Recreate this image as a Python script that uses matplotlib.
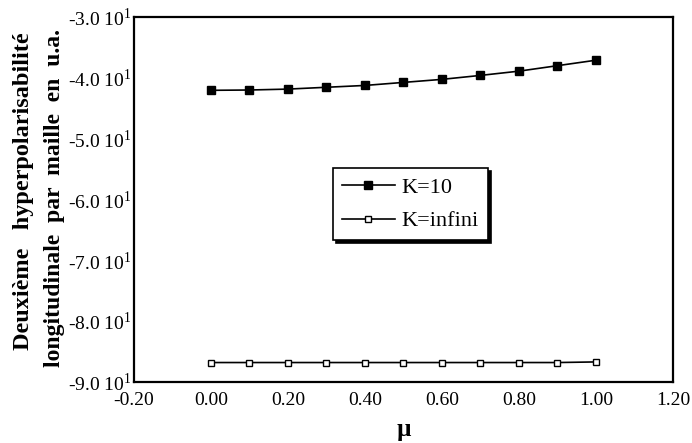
import matplotlib
matplotlib.use("Agg")
import matplotlib.pyplot as plt
from matplotlib.ticker import FixedLocator, FuncFormatter

plt.rcParams['font.family'] = ['Liberation Serif', 'DejaVu Serif']
plt.rcParams['mathtext.fontset'] = 'custom'
plt.rcParams['mathtext.rm'] = 'Liberation Serif'

mu = [0.0, 0.1, 0.2, 0.3, 0.4, 0.5, 0.6, 0.7, 0.8, 0.9, 1.0]
k10 = [-42.05, -42.0, -41.85, -41.55, -41.25, -40.75, -40.25, -39.6, -38.9, -38.0, -37.1]
kinf = [-86.8, -86.8, -86.8, -86.8, -86.8, -86.8, -86.8, -86.8, -86.8, -86.8, -86.7]

xticks = [-0.2, 0.0, 0.2, 0.4, 0.6, 0.8, 1.0, 1.2]
yticks = [-90, -80, -70, -60, -50, -40, -30]

W, H = 692, 443
fig = plt.figure(figsize=(W / 100, H / 100), dpi=100)
ax = fig.add_axes([0.1936, 0.1377, 0.7789, 0.8239])

ax.plot(mu, k10, color='black', lw=1.2, marker='s', ms=6,
        mfc='black', mec='black', label='K=10')
ax.plot(mu, kinf, color='black', lw=1.2, marker='s', ms=5,
        mfc='white', mec='black', mew=1.0, label='K=infini')

ax.set_xlim(-0.2, 1.2)
ax.set_ylim(-90, -30)
ax.xaxis.set_major_locator(FixedLocator(xticks))
ax.yaxis.set_major_locator(FixedLocator(yticks))
ax.xaxis.set_major_formatter(FuncFormatter(lambda v, p: f"{v:.2f}"))
ax.yaxis.set_major_formatter(FuncFormatter(lambda v, p: f"{v/10:.1f} 10$^{{1}}$"))
ax.tick_params(length=0, labelsize=14)
ax.tick_params(axis='x', pad=7)
ax.tick_params(axis='y', pad=2)
for s in ax.spines.values():
    s.set_linewidth(1.6)

ax.set_xlabel('µ', fontsize=18, fontweight='bold', labelpad=7)

# two-line vertical axis title, each line placed on its own
fig.text(24 / W, 1 - 191 / H, 'Deuxième   hyperpolarisabilité', rotation=90,
         fontsize=17.5, fontweight='bold', ha='center', va='center')
fig.text(55 / W, 1 - 198 / H, 'longitudinale  par  maille  en  u.a.', rotation=90,
         fontsize=17, fontweight='bold', ha='center', va='center')

leg = ax.legend(loc='upper left', bbox_to_anchor=(0.369, 0.586), borderaxespad=0,
                fontsize=16, frameon=True, fancybox=False,
                shadow={'color': 'black', 'alpha': 1.0},
                handlelength=2.4, borderpad=0.4, labelspacing=0.6,
                handletextpad=0.3)
leg.get_frame().set_edgecolor('black')
leg.get_frame().set_linewidth(1.2)
leg.get_frame().set_alpha(1.0)

fig.savefig('out.png', dpi=100)
